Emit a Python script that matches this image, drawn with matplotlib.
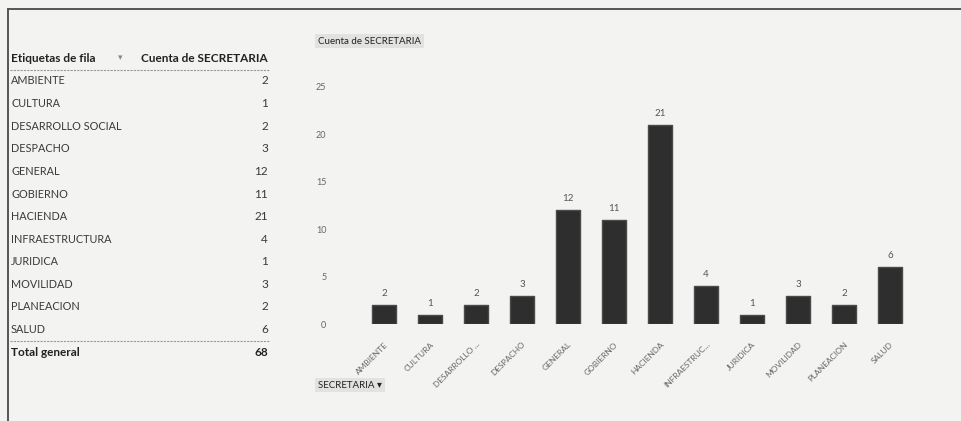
import matplotlib.pyplot as plt

# pivot table: Cuenta de SECRETARIA
secretarias = ["AMBIENTE", "CULTURA", "DESARROLLO SOCIAL", "DESPACHO", "GENERAL",
               "GOBIERNO", "HACIENDA", "INFRAESTRUCTURA", "JURIDICA", "MOVILIDAD",
               "PLANEACION", "SALUD"]
conteo = [2, 1, 2, 3, 12, 11, 21, 4, 1, 3, 2, 6]
etiquetas_x = ["AMBIENTE", "CULTURA", "DESARROLLO ...", "DESPACHO", "GENERAL",
               "GOBIERNO", "HACIENDA", "INFRAESTRUC...", "JURIDICA", "MOVILIDAD",
               "PLANEACION", "SALUD"]
yticks = [0, 5, 10, 15, 20, 25]

W, H = 961, 421
bg = "#f3f3f1"
narrow = ["Lato", "DejaVu Sans"]

fig = plt.figure(figsize=(W / 100, H / 100), dpi=100, facecolor=bg)

def px(x, y):
    return x / W, 1 - y / H

# scan frame
fig.add_artist(plt.Line2D([8 / W, 1], [1 - 9 / H] * 2, color="#555555", lw=1.4))
fig.add_artist(plt.Line2D([8 / W] * 2, [0, 1 - 9 / H], color="#555555", lw=1.4))

# --- table on the left ---
fig.text(*px(11, 58), "Etiquetas de fila", fontsize=8.5, fontweight="bold",
         family=narrow, va="center", color="#222222")
fig.text(*px(118, 58), "▾", fontsize=6.5, va="center", color="#888888")
fig.text(*px(268, 58), "Cuenta de SECRETARIA", fontsize=8.5, fontweight="bold",
         family=narrow, va="center", ha="right", color="#222222")
fig.add_artist(plt.Line2D([10 / W, 270 / W], [1 - 70 / H] * 2, color="#999999",
                          lw=0.8, ls=(0, (2, 1))))
row_y0, row_dy = 81, 22.6
for i, (name, val) in enumerate(zip(secretarias, conteo)):
    y = row_y0 + i * row_dy
    fig.text(*px(11, y), name, fontsize=7.8, family=narrow, va="center", color="#3a3a3a")
    fig.text(*px(268, y), str(val), fontsize=8.5, family=narrow, va="center", ha="right",
             color="#3a3a3a")
y_tot = row_y0 + len(secretarias) * row_dy
fig.add_artist(plt.Line2D([10 / W, 270 / W], [1 - (y_tot - 11) / H] * 2, color="#999999",
                          lw=0.8, ls=(0, (2, 1))))
fig.text(*px(11, y_tot), "Total general", fontsize=8.5, fontweight="bold", family=narrow,
         va="center", color="#222222")
fig.text(*px(268, y_tot), str(sum(conteo)), fontsize=8.5, fontweight="bold", family=narrow,
         va="center", ha="right", color="#222222")

# --- chart ---
ax = fig.add_axes([361 / W, 1 - 324 / H, 552 / W, (324 - 87) / H])
ax.set_facecolor("none")
x = range(len(conteo))
bars = ax.bar(x, conteo, width=0.52, color="#2e2e2e", edgecolor="#4a4a4a", linewidth=1.0,
              joinstyle="round")
for b, v in zip(bars, conteo):
    ax.annotate(str(v), (b.get_x() + b.get_width() / 2, v), xytext=(0, 5),
                textcoords="offset points", ha="center", va="bottom", fontsize=7,
                color="#555555", family=narrow)
ax.set_xlim(-0.5, len(conteo) - 0.5)
ax.set_ylim(0, 25)
ax.set_yticks(yticks)
ax.set_yticklabels([str(t) for t in yticks], fontsize=6.5, color="#666666", family=narrow)
ax.tick_params(axis="y", length=0, pad=25)
ax.set_xticks(list(x))
ax.set_xticklabels(etiquetas_x, rotation=45, ha="right", rotation_mode="anchor",
                   fontsize=6, color="#666666", family=narrow)
ax.tick_params(axis="x", length=0, pad=12)
for s in ax.spines.values():
    s.set_visible(False)

# pivot chart field buttons
fig.text(*px(318, 41), "Cuenta de SECRETARIA", fontsize=7, family=narrow, va="center",
         color="#222222",
         bbox=dict(boxstyle="square,pad=0.3", fc="#e2e2e0", ec="none"))
fig.text(*px(318, 385), "SECRETARIA ▾", fontsize=7, family=narrow, va="center",
         color="#222222",
         bbox=dict(boxstyle="square,pad=0.3", fc="#e2e2e0", ec="none"))

fig.savefig("out.png", dpi=100, facecolor=bg)
